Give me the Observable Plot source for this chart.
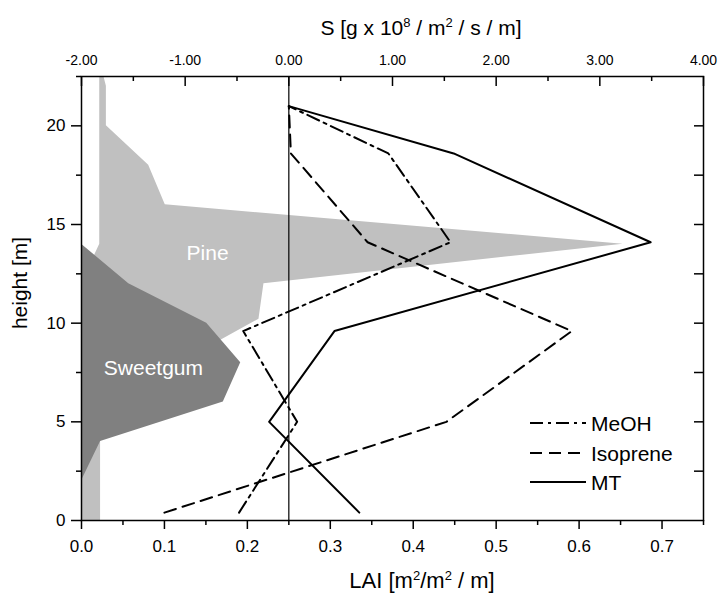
<!DOCTYPE html>
<html><head><meta charset="utf-8">
<script src="https://cdn.jsdelivr.net/npm/d3@7"></script>
<script src="https://cdn.jsdelivr.net/npm/@observablehq/plot@0.6"></script>
<style>
html,body{margin:0;padding:0;background:#fff;}
#chart svg{display:block;}
</style></head><body><div id="chart"></div>
<script>
// Emission source profiles S [g x 10^8 / m^2 / s / m] at measurement heights [m]
const profileHeights = [0.4, 5.0, 9.6, 14.1, 18.6, 21.0];
const meohS     = [-0.48, 0.08, -0.44, 1.56, 0.96, 0.0];
const isopreneS = [-1.20, 1.52, 2.73, 0.76, 0.02, 0.0];
const mtS       = [0.68, -0.19, 0.44, 3.49, 1.59, 0.0];

// Leaf area density profiles LAI [m2/m2 / m]
const pineHeights = [0, 4, 6, 8, 10.2, 12, 14, 16, 18, 20, 22, 22.5];
const pineLAI     = [0.023, 0.023, 0.06, 0.119, 0.214, 0.220, 0.653, 0.101, 0.081, 0.030, 0.030, 0.027];
const pineBase    = [0, 0, 0, 0, 0, 0, 0.022, 0.022, 0.022, 0.022, 0.022, 0.022];
const sweetgumHeights = [2, 4, 6, 8, 10, 12, 14];
const sweetgumLAI     = [0, 0.023, 0.171, 0.192, 0.151, 0.057, 0];

// Tick labels
const laiTicks = [0, 0.1, 0.2, 0.3, 0.4, 0.5, 0.6, 0.7];
const laiMinorTicks = [0.05, 0.15, 0.25, 0.35, 0.45, 0.55, 0.65, 0.75];
const sTicks = [-2, -1, 0, 1, 2, 3, 4];
const sMinorTicks = [-1.5, -0.5, 0.5, 1.5, 2.5, 3.5];
const heightTicks = [0, 5, 10, 15, 20];
const heightMinorTicks = [2.5, 7.5, 12.5, 17.5, 22.5];
const rightTicks = [2.5, 5, 7.5, 10, 12.5, 15, 17.5, 20];

const series = [
  {name: "MeOH", values: meohS, dash: "13,5,3,5"},
  {name: "Isoprene", values: isopreneS, dash: "12,7"},
  {name: "MT", values: mtS, dash: null}
];

// top S axis (-2..4) is aligned with bottom LAI axis (0..0.75)
const sToLAI = s => (s + 2) / 8;

const pine = pineHeights.map((h, i) => ({h, lai: pineLAI[i], base: pineBase[i]}));
const sweetgum = sweetgumHeights.map((h, i) => ({h, lai: sweetgumLAI[i]}));
const lines = series.flatMap(s => profileHeights.map((h, i) => ({name: s.name, h, s: s.values[i]})));

const W = 720, H = 594, mL = 81, mR = 17, mT = 76, mB = 74;
const pw = W - mL - mR, ph = H - mT - mB;
const FONT = "Arial, 'Liberation Sans', sans-serif";

const lineMarks = series.map(s => Plot.line(lines.filter(d => d.name === s.name), {
  x: d => sToLAI(d.s), y: "h", stroke: "black", strokeWidth: 2,
  strokeDasharray: s.dash || undefined, curve: "linear"
}));

const plot = Plot.plot({
  width: W, height: H,
  marginLeft: mL, marginRight: mR, marginTop: mT, marginBottom: mB,
  x: {domain: [0, 0.75], axis: null, label: null},
  y: {domain: [0, 22.5], axis: null, label: null},
  style: {fontFamily: FONT, background: "white", color: "black"},
  marks: [
    Plot.areaX(pine, {y: "h", x1: "base", x2: "lai", fill: "#c0c0c0", curve: "linear"}),
    Plot.areaX(sweetgum, {y: "h", x: "lai", fill: "#808080", curve: "linear"}),
    Plot.text(["Pine"], {x: 0.152, y: 13.55, text: d => d, fill: "white", fontSize: 21}),
    Plot.text(["Sweetgum"], {x: 0.0867, y: 7.72, text: d => d, fill: "white", fontSize: 21}),
    Plot.ruleX([0], {x: sToLAI, stroke: "black", strokeWidth: 1.2}),
    ...lineMarks,
    Plot.frame({stroke: "black", strokeWidth: 1.5}),
    Plot.axisX({anchor: "bottom", ticks: laiTicks, tickFormat: d => d.toFixed(1), tickSize: 9, tickPadding: 10, fontSize: 17, strokeWidth: 1.5, label: null, ariaLabel: "lai-axis"}),
    Plot.axisX({anchor: "bottom", ticks: laiMinorTicks, tickFormat: () => "", tickSize: 5, strokeWidth: 1.5, label: null}),
    Plot.axisX({anchor: "top", ticks: sTicks.map(sToLAI), tickFormat: d => (d * 8 - 2).toFixed(2), tickSize: 0, tickPadding: 12, fontSize: 14, label: null, ariaLabel: "s-axis"}),
    Plot.ruleX(sTicks, {x: sToLAI, insetBottom: ph - 10, stroke: "black", strokeWidth: 1.5}),
    Plot.ruleX(sMinorTicks, {x: sToLAI, insetBottom: ph - 5, stroke: "black", strokeWidth: 1.5}),
    Plot.axisY({anchor: "left", ticks: heightTicks, tickSize: 10, tickPadding: 6, fontSize: 17, strokeWidth: 1.5, label: null, ariaLabel: "height-axis"}),
    Plot.axisY({anchor: "left", ticks: heightMinorTicks, tickFormat: () => "", tickSize: 5, strokeWidth: 1.5, label: null}),
    Plot.ruleY(rightTicks, {y: d => d, insetLeft: pw - 9, stroke: "black", strokeWidth: 1.5})
  ]
});

const svg = d3.select(plot);

// enforce tick label font sizes
svg.selectAll("g").each(function() {
  const label = this.getAttribute("aria-label") || "";
  if (label.startsWith("lai-axis") && label.includes("label")) d3.select(this).style("font-size", "17px");
  if (label.startsWith("height-axis") && label.includes("label")) d3.select(this).style("font-size", "17px");
  if (label.startsWith("s-axis") && label.includes("label")) d3.select(this).style("font-size", "14px");
});

// Top axis title
const t1 = svg.append("text").attr("x", 421).attr("y", 35).attr("text-anchor", "middle")
  .attr("font-family", FONT).attr("font-size", 21).attr("fill", "black");
t1.append("tspan").text("S [g x 10");
t1.append("tspan").attr("dy", -8).attr("font-size", 13).text("8");
t1.append("tspan").attr("dy", 8).text(" / m");
t1.append("tspan").attr("dy", -8).attr("font-size", 13).text("2");
t1.append("tspan").attr("dy", 8).text(" / s / m]");

// Bottom axis title
const t2 = svg.append("text").attr("x", 422).attr("y", 588).attr("text-anchor", "middle")
  .attr("font-family", FONT).attr("font-size", 22).attr("fill", "black");
t2.append("tspan").text("LAI [m");
t2.append("tspan").attr("dy", -8).attr("font-size", 13).text("2");
t2.append("tspan").attr("dy", 8).text("/m");
t2.append("tspan").attr("dy", -8).attr("font-size", 13).text("2");
t2.append("tspan").attr("dy", 8).text(" / m]");

// Left axis title
svg.append("text").attr("transform", "translate(27,283) rotate(-90)").attr("text-anchor", "middle")
  .attr("font-family", FONT).attr("font-size", 21).attr("fill", "black").text("height [m]");

// Legend
const legendRows = [423, 453, 482];
series.forEach((s, i) => {
  const y = legendRows[i];
  svg.append("line").attr("x1", 530).attr("x2", 586).attr("y1", y).attr("y2", y)
    .attr("stroke", "black").attr("stroke-width", 2)
    .attr("stroke-dasharray", s.dash || null);
  svg.append("text").attr("x", 591).attr("y", y + 7.5).attr("text-anchor", "start")
    .attr("font-family", FONT).attr("font-size", 21).attr("fill", "black").text(s.name);
});

document.getElementById("chart").appendChild(plot);
</script></body></html>
